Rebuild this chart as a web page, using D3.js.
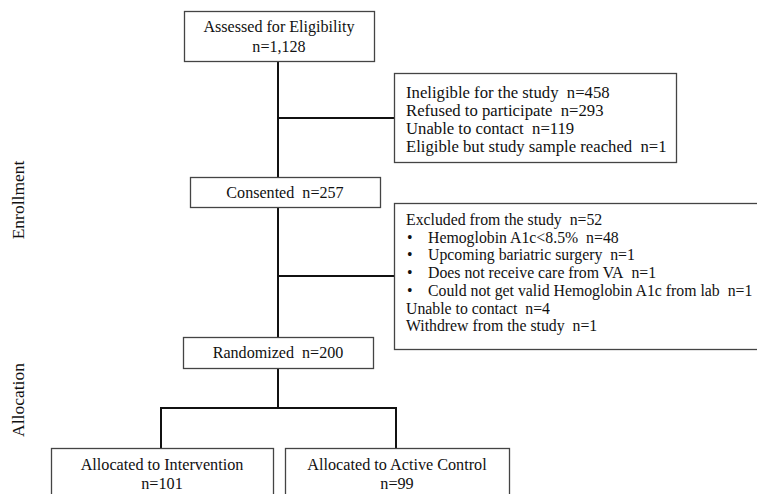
<!DOCTYPE html>
<html>
<head>
<meta charset="utf-8">
<script src="https://cdn.jsdelivr.net/npm/d3@7"></script>
<style>
  html, body { margin: 0; padding: 0; background: #fff; }
  svg { display: block; }
  text { font-family: "Liberation Serif", "Times New Roman", serif; fill: #111; }
</style>
</head>
<body>
<svg id="chart" width="757" height="494"></svg>
<script>
// ---- data ----
const stageLabels = ["Assessed for Eligibility", "Consented", "Randomized"];
const stageCounts = [1128, 257, 200];
const ineligibleLabels = ["Ineligible for the study", "Refused to participate", "Unable to contact", "Eligible but study sample reached"];
const ineligibleCounts = [458, 293, 119, 1];
const exclusionLabels = ["Excluded from the study", "Hemoglobin A1c<8.5%", "Upcoming bariatric surgery", "Does not receive care from VA", "Could not get valid Hemoglobin A1c from lab", "Unable to contact", "Withdrew from the study"];
const exclusionCounts = [52, 48, 1, 1, 1, 4, 1];
const exclusionBullets = [false, true, true, true, true, false, false];
const armLabels = ["Allocated to Intervention", "Allocated to Active Control"];
const armCounts = [101, 99];
const phaseLabels = ["Enrollment", "Allocation"];

// ---- drawing ----
const svg = d3.select("#chart");
const fmt = d3.format(",");
const lineColor = "#111";
const boxStroke = "#444";

const cx = 278;
// main stage boxes
const stageBoxes = [
  { x: 184, y: 11, w: 190, h: 50, lines: [stageLabels[0], "n=" + fmt(stageCounts[0])] },
  { x: 190, y: 177, w: 190, h: 30, lines: [stageLabels[1] + "\u00a0\u00a0n=" + fmt(stageCounts[1])] },
  { x: 183, y: 337, w: 190, h: 31, lines: [stageLabels[2] + "\u00a0\u00a0n=" + fmt(stageCounts[2])] }
];

// connectors
const conn = svg.append("g").attr("stroke", lineColor).attr("stroke-width", 2).attr("fill", "none");
conn.append("path").attr("d", d3.line()([[cx, 61], [cx, 177]]));
conn.append("path").attr("d", d3.line()([[cx, 207], [cx, 337]]));
conn.append("path").attr("d", d3.line()([[cx, 368], [cx, 408]]));
conn.append("path").attr("d", d3.line()([[cx, 118], [394, 118]]));
conn.append("path").attr("d", d3.line()([[cx, 276], [394, 276]]));
conn.append("path").attr("d", d3.line()([[161, 448], [161, 408], [396, 408], [396, 448]]));

function drawBox(b) {
  const g = svg.append("g");
  g.append("rect").attr("x", b.x + 0.5).attr("y", b.y + 0.5).attr("width", b.w).attr("height", b.h)
    .attr("fill", "#fff").attr("stroke", boxStroke).attr("stroke-width", 1.3);
  return g;
}

stageBoxes.forEach(b => {
  const g = drawBox(b);
  const n = b.lines.length;
  const lh = 20;
  const startY = b.y + b.h / 2 - (n - 1) * lh / 2 + 5.5;
  g.selectAll("text").data(b.lines).join("text")
    .attr("x", b.x + b.w / 2).attr("y", (d, i) => startY + i * lh)
    .attr("text-anchor", "middle").attr("font-size", 16.1).text(d => d);
});

// ineligible box
{
  const b = { x: 394, y: 73, w: 282, h: 89 };
  const g = drawBox(b);
  g.selectAll("text").data(ineligibleLabels).join("text")
    .attr("x", 406).attr("y", (d, i) => 98 + i * 18.1)
    .attr("font-size", 16.7)
    .text((d, i) => d + "\u00a0\u00a0n=" + fmt(ineligibleCounts[i]));
}

// exclusion box
{
  const b = { x: 394, y: 203, w: 380, h: 146 };
  const g = drawBox(b);
  const rows = g.selectAll("g.row").data(exclusionLabels).join("g").attr("class", "row")
    .attr("transform", (d, i) => `translate(0, ${225 + i * 17.7})`);
  rows.filter((d, i) => exclusionBullets[i]).append("text")
    .attr("x", 407).attr("y", 0).attr("font-size", 15.8).text("\u2022");
  rows.append("text")
    .attr("x", (d, i) => exclusionBullets[i] ? 428 : 406).attr("y", 0)
    .attr("font-size", 15.8)
    .text((d, i) => d + "\u00a0\u00a0n=" + fmt(exclusionCounts[i]));
}

// arm boxes
const armBoxes = [
  { x: 51, y: 448, w: 222, h: 60 },
  { x: 285, y: 448, w: 224, h: 60 }
];
armBoxes.forEach((b, i) => {
  const g = drawBox(b);
  g.append("text").attr("x", b.x + b.w / 2).attr("y", 470).attr("text-anchor", "middle")
    .attr("font-size", 16.2).text(armLabels[i]);
  g.append("text").attr("x", b.x + b.w / 2).attr("y", 489).attr("text-anchor", "middle")
    .attr("font-size", 16.2).text("n=" + fmt(armCounts[i]));
});

// phase labels
const phaseY = [200, 400];
svg.selectAll("text.phase").data(phaseLabels).join("text").attr("class", "phase")
  .attr("transform", (d, i) => `translate(24, ${phaseY[i]}) rotate(-90)`)
  .attr("text-anchor", "middle").attr("font-size", 17.5).text(d => d);
</script>
</body>
</html>
